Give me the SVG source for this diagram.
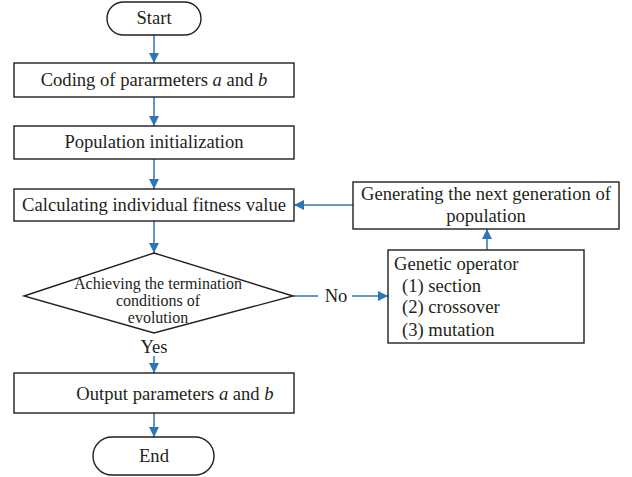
<svg xmlns="http://www.w3.org/2000/svg" width="632" height="477" viewBox="0 0 632 477">
<style>
.n{fill:#fff;stroke:#231f20;stroke-width:1.4}
.t{font-family:"Liberation Serif",serif;font-size:18.6px;fill:#231f20}
.s{font-family:"Liberation Serif",serif;font-size:16px;fill:#231f20}
.c{stroke:#2e75b6;stroke-width:1.5;fill:none}
</style>
<defs>
<marker id="a" viewBox="0 0 10 10" refX="10" refY="5" markerWidth="10" markerHeight="10" markerUnits="userSpaceOnUse" orient="auto">
<path d="M0,0L10,5L0,10z" fill="#2e75b6"/>
</marker>
</defs>
<rect width="632" height="477" fill="#fff"/>
<g id="connectors">
<line class="c" x1="154" y1="35" x2="154" y2="63" marker-end="url(#a)"/>
<line class="c" x1="154" y1="97" x2="154" y2="126" marker-end="url(#a)"/>
<line class="c" x1="154" y1="159" x2="154" y2="189" marker-end="url(#a)"/>
<line class="c" x1="154" y1="221" x2="154" y2="253" marker-end="url(#a)"/>
<line class="c" x1="154" y1="356" x2="154" y2="373" marker-end="url(#a)"/>
<line class="c" x1="154" y1="413" x2="154" y2="437" marker-end="url(#a)"/>
<line class="c" x1="293" y1="296" x2="318" y2="296"/>
<line class="c" x1="352" y1="296" x2="388" y2="296" marker-end="url(#a)"/>
<line class="c" x1="487" y1="250" x2="487" y2="229" marker-end="url(#a)"/>
<line class="c" x1="353" y1="205" x2="294" y2="205" marker-end="url(#a)"/>
<text class="t" x="336" y="302" text-anchor="middle">No</text>
<text class="t" x="154" y="353" text-anchor="middle">Yes</text>
</g>
<g id="start">
<rect class="n" x="107" y="2" width="94" height="33" rx="16.5"/>
<text class="t" x="154" y="24" text-anchor="middle">Start</text>
</g>
<g id="coding">
<rect class="n" x="14" y="63" width="280" height="34"/>
<text class="t" x="154" y="86" text-anchor="middle">Coding of pararmeters <tspan font-style="italic">a</tspan> and <tspan font-style="italic">b</tspan></text>
</g>
<g id="init">
<rect class="n" x="14" y="126" width="280" height="33"/>
<text class="t" x="154" y="148" text-anchor="middle">Population initialization</text>
</g>
<g id="fitness">
<rect class="n" x="14" y="189" width="280" height="32"/>
<text class="t" x="154" y="211" text-anchor="middle">Calculating individual fitness value</text>
</g>
<g id="decision">
<polygon class="n" points="154,253 293,296 154,333 24,296"/>
<text class="s" x="158" y="289" text-anchor="middle">Achieving the termination</text>
<text class="s" x="158" y="306" text-anchor="middle">conditions of</text>
<text class="s" x="158" y="323" text-anchor="middle">evolution</text>
</g>
<g id="output">
<rect class="n" x="14" y="373" width="280" height="40"/>
<text class="t" x="175" y="400" text-anchor="middle">Output parameters <tspan font-style="italic">a</tspan> and <tspan font-style="italic">b</tspan></text>
</g>
<g id="end">
<rect class="n" x="93" y="437" width="121" height="38" rx="19"/>
<text class="t" x="154" y="462" text-anchor="middle">End</text>
</g>
<g id="nextgen">
<rect class="n" x="353" y="182" width="266" height="47"/>
<text class="t" x="486" y="200" text-anchor="middle">Generating the next generation of</text>
<text class="t" x="486" y="222" text-anchor="middle">population</text>
</g>
<g id="genetic">
<rect class="n" x="388" y="250" width="196" height="93"/>
<text class="t" x="394" y="270">Genetic operator</text>
<text class="t" x="402" y="292">(1)  section</text>
<text class="t" x="402" y="313">(2)  crossover</text>
<text class="t" x="402" y="336">(3)  mutation</text>
</g>
</svg>
